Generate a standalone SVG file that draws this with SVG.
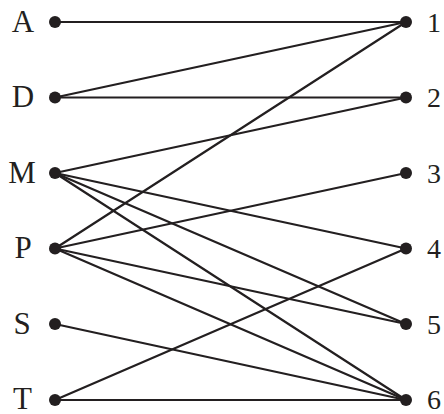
<svg xmlns="http://www.w3.org/2000/svg" width="444" height="414" viewBox="0 0 444 414">
<style>
.e{stroke:#231f20;stroke-width:2.2;fill:none;stroke-linecap:round}
.d{fill:#231f20}
.t{font-family:"Liberation Serif","Times New Roman",serif;fill:#231f20;text-anchor:middle}
.l{font-size:31px}
.n{font-size:28px}
</style>
<rect width="444" height="414" fill="#fff"/>
<g id="edges">
<line class="e" x1="55" y1="22" x2="406" y2="22"/>
<line class="e" x1="55" y1="97.5" x2="406" y2="22"/>
<line class="e" x1="55" y1="97.5" x2="406" y2="97.5"/>
<line class="e" x1="55" y1="173" x2="406" y2="97.5"/>
<line class="e" x1="55" y1="173" x2="406" y2="248.5"/>
<line class="e" x1="55" y1="173" x2="406" y2="324"/>
<line class="e" x1="55" y1="173" x2="406" y2="400"/>
<line class="e" x1="55" y1="248.5" x2="406" y2="22"/>
<line class="e" x1="55" y1="248.5" x2="406" y2="173"/>
<line class="e" x1="55" y1="248.5" x2="406" y2="324"/>
<line class="e" x1="55" y1="248.5" x2="406" y2="400"/>
<line class="e" x1="55" y1="324" x2="406" y2="400"/>
<line class="e" x1="55" y1="400" x2="406" y2="248.5"/>
<line class="e" x1="55" y1="400" x2="406" y2="400"/>
</g>
<g id="A"><circle class="d" cx="55" cy="22" r="6"/><text class="t l" x="23" y="31.5">A</text></g>
<g id="D"><circle class="d" cx="55" cy="97.5" r="6"/><text class="t l" x="23" y="107">D</text></g>
<g id="M"><circle class="d" cx="55" cy="173" r="6"/><text class="t l" x="22" y="183">M</text></g>
<g id="P"><circle class="d" cx="55" cy="248.5" r="6"/><text class="t l" x="23" y="258">P</text></g>
<g id="S"><circle class="d" cx="55" cy="324" r="6"/><text class="t l" x="22" y="333.5">S</text></g>
<g id="T"><circle class="d" cx="55" cy="400" r="6"/><text class="t l" x="22.5" y="409">T</text></g>
<g id="n1"><circle class="d" cx="406" cy="22" r="6"/><text class="t n" x="434" y="31.5">1</text></g>
<g id="n2"><circle class="d" cx="406" cy="97.5" r="6"/><text class="t n" x="434" y="107">2</text></g>
<g id="n3"><circle class="d" cx="406" cy="173" r="6"/><text class="t n" x="434" y="182.5">3</text></g>
<g id="n4"><circle class="d" cx="406" cy="248.5" r="6"/><text class="t n" x="434" y="257.5">4</text></g>
<g id="n5"><circle class="d" cx="406" cy="324" r="6"/><text class="t n" x="434" y="333.5">5</text></g>
<g id="n6"><circle class="d" cx="406" cy="400" r="6"/><text class="t n" x="434" y="409">6</text></g>
</svg>
